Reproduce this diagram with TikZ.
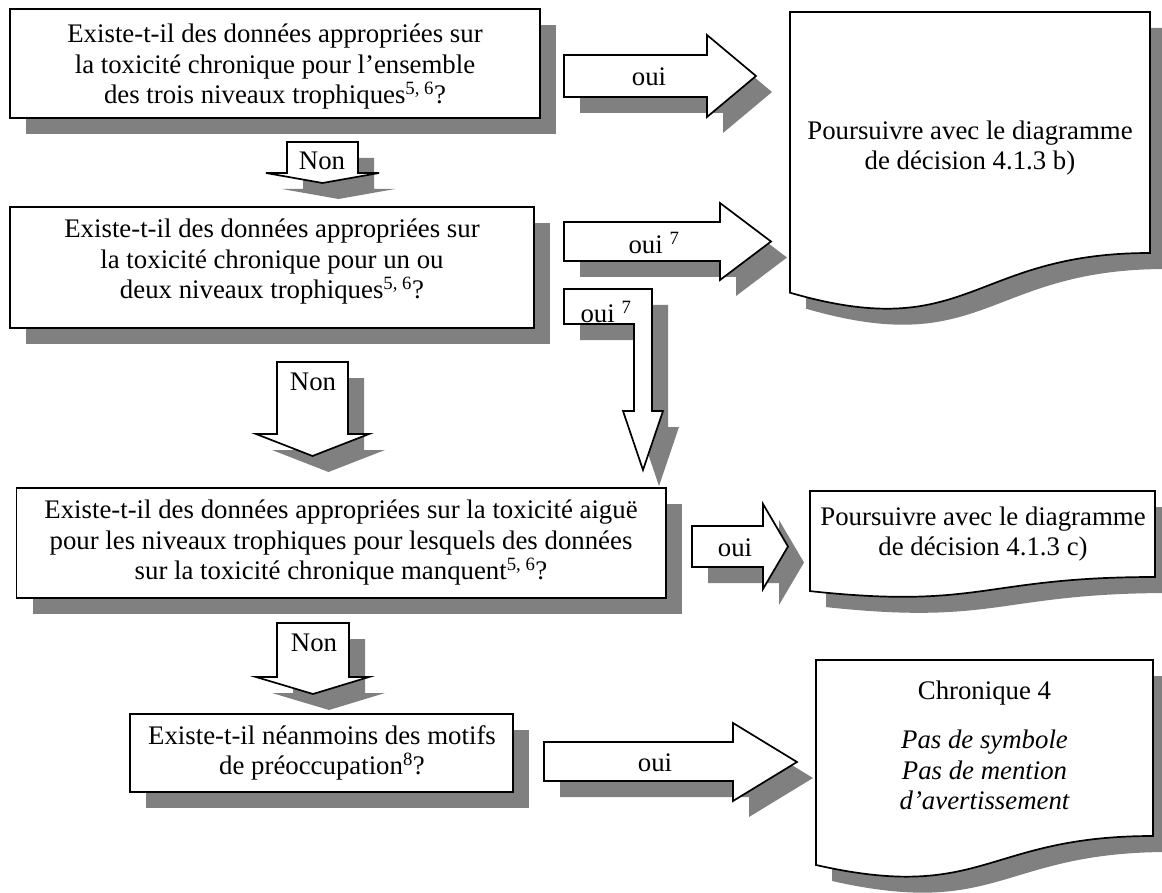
\documentclass[tikz,border=0pt]{standalone}
\usepackage{fontspec}
\setmainfont{Liberation Serif}
\definecolor{shadowgray}{RGB}{128,128,128}
\newcommand\allshapes[1]{%
  % question boxes
  \path[#1] (10,9) rectangle (540,118);
  \path[#1] (10,207) rectangle (534,328);
  \path[#1] (16.5,488) rectangle (666,598);
  \path[#1] (130,714) rectangle (513,792);
  % document shapes
  \path[#1] (790,12) -- (1150,12) -- (1150,253) .. controls (970,253) and (970,344.8) .. (790,292.7) -- cycle;
  \path[#1] (810,491) -- (1155,491) -- (1155,577) .. controls (982.5,577) and (982.5,609.7) .. (810,591.1) -- cycle;
  \path[#1] (816,660) -- (1153,660) -- (1153,836) .. controls (984.5,836) and (984.5,903) .. (816,865) -- cycle;
  % right block arrows
  \path[#1] (564,55) -- (707,55) -- (707,35) -- (756,76) -- (707,117) -- (707,97) -- (564,97) -- cycle;
  \path[#1] (564,222) -- (720,222) -- (720,203) -- (771,241.5) -- (720,280) -- (720,261) -- (564,261) -- cycle;
  \path[#1] (692,526) -- (763,526) -- (763,504) -- (788,546.5) -- (763,589) -- (763,567) -- (692,567) -- cycle;
  \path[#1] (544,742) -- (733,742) -- (733,723) -- (797,762) -- (733,801) -- (733,781) -- (544,781) -- cycle;
  % down block arrows
  \path[#1] (287,142) -- (358,142) -- (358,173) -- (379,173) -- (322.5,183) -- (266,173) -- (287,173) -- cycle;
  \path[#1] (277,362) -- (348,362) -- (348,434) -- (369,434) -- (312.5,456) -- (256,434) -- (277,434) -- cycle;
  \path[#1] (277,623) -- (349,623) -- (349,677) -- (369,677) -- (313,694) -- (256,677) -- (277,677) -- cycle;
  % bent arrow
  \path[#1] (564,289) -- (652,289) -- (652,411) -- (663,411) -- (643,470) -- (623,411) -- (634,411) -- (634,324) -- (564,324) -- cycle;
}
\begin{document}
\begin{tikzpicture}[x=1pt,y=-1pt,
  txt/.style={font=\fontsize{26.8}{30.5}\selectfont, align=center, inner sep=0pt},
  shp/.style={draw=black, fill=white, line width=1.7pt, line join=miter}]
\useasboundingbox (0,0) rectangle (1162,893);
\begin{scope}[shift={(16,16)}]
  \allshapes{fill=shadowgray}
\end{scope}
\allshapes{shp}
% texts
\node[txt] (q1) at (275,67) {Existe-t-il des données appropriées sur\\la toxicité chronique pour l’ensemble\\des trois niveaux trophiques\textsuperscript{5, 6}?};
\node[txt] (q2) at (272,262) {Existe-t-il des données appropriées sur\\la toxicité chronique pour un ou\\deux niveaux trophiques\textsuperscript{5, 6}?};
\node[txt] (q3) at (341,543) {Existe-t-il des données appropriées sur la toxicité aiguë\\pour les niveaux trophiques pour lesquels des données\\sur la toxicité chronique manquent\textsuperscript{5, 6}?};
\node[txt] (q4) at (322,753) {Existe-t-il néanmoins des motifs\\de préoccupation\textsuperscript{8}?};
\node[txt] (rb) at (970,148) {Poursuivre avec le diagramme\\de décision 4.1.3 b)};
\node[txt] (rc) at (983,534) {Poursuivre avec le diagramme\\de décision 4.1.3 c)};
\node[txt] (ch) at (984.5,693) {Chronique 4};
\node[txt, font=\fontsize{26.8}{30.5}\selectfont\itshape] (chi) at (984.5,770) {Pas de symbole\\Pas de mention\\d’avertissement};
\node[txt] (o1) at (649,77) {oui};
\node[txt] (o2) at (654,243) {oui~\textsuperscript{7}};
\node[txt] (o3) at (606,312) {oui~\textsuperscript{7}};
\node[txt] (o4) at (735,548) {oui};
\node[txt] (o5) at (655,763) {oui};
\node[txt] (n1) at (322,161) {Non};
\node[txt] (n2) at (313,382) {Non};
\node[txt] (n3) at (314,643) {Non};
\end{tikzpicture}
\end{document}
